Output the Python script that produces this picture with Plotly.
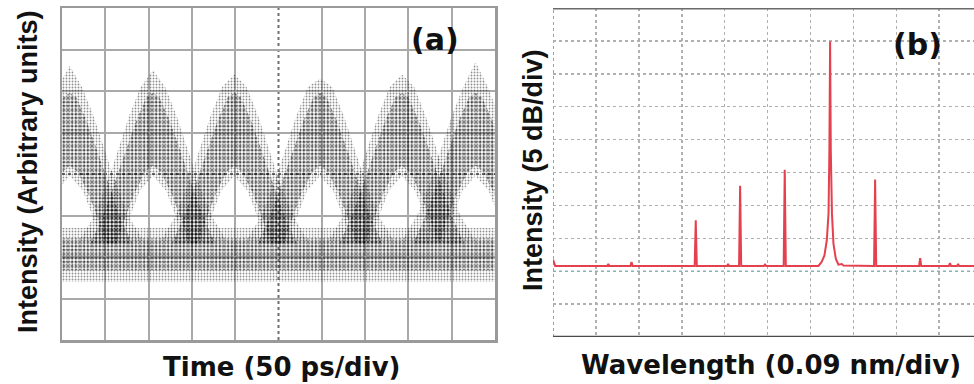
import plotly.graph_objects as go

# ---------------- Panel (a): eye diagram (units = grid divisions) ----------------
# pulse peak positions (x)
pulse_peak_x = [0.18, 2.10, 3.98, 5.96, 7.85, 9.55]
pulse_tip_y = [6.6, 6.5, 6.4, 6.3, 6.4, 6.7]
# sparse envelope of one pulse (dx from peak, y); outer edge then inner edge
pulse_outer_dx = [-1.70, -1.35, -1.05, -0.80, -0.55, -0.28, 0.0, 0.28, 0.55, 0.80, 1.05, 1.35, 1.70]
pulse_outer_y = [2.40, 3.00, 3.80, 4.60, 5.40, 6.10, None, 6.10, 5.40, 4.60, 3.80, 3.00, 2.40]
pulse_inner_dx = [0.72, 0.52, 0.30, 0.0, -0.30, -0.52, -0.72]
pulse_inner_y = [2.40, 3.00, 3.60, 3.95, 3.60, 3.00, 2.40]
# dense core of one pulse
core_outer_dx = [-1.45, -1.15, -0.88, -0.62, -0.38, -0.15, 0.0, 0.15, 0.38, 0.62, 0.88, 1.15, 1.45]
core_outer_y = [2.30, 3.00, 3.80, 4.60, 5.30, 5.85, 5.95, 5.85, 5.30, 4.60, 3.80, 3.00, 2.30]
core_inner_dx = [0.85, 0.62, 0.42, 0.18, 0.0, -0.18, -0.42, -0.62, -0.85]
core_inner_y = [2.30, 3.00, 3.55, 4.05, 4.20, 4.05, 3.55, 3.00, 2.30]
# "zero" level band
base_sparse_y = [1.40, 2.70]
base_core_y = [1.68, 2.45]

# ---------------- Panel (b): optical spectrum ----------------
spec_baseline = 2.16
spec_start = [(0.00, 2.35), (0.05, 2.16)]
line_x = [1.29, 1.83, 3.326, 4.08, 4.36, 4.94, 5.40, 7.506, 8.555, 9.25, 9.44]
line_y = [2.22, 2.28, 3.55, 2.22, 4.60, 2.20, 5.08, 4.79, 2.40, 2.25, 2.22]
main_x = [6.185, 6.26, 6.325, 6.38, 6.42, 6.44, 6.457, 6.473, 6.50, 6.535, 6.59, 6.65, 6.73, 6.77]
main_y = [2.16, 2.28, 2.48, 2.94, 3.75, 5.67, 8.98, 5.67, 3.75, 2.84, 2.38, 2.20, 2.22, 2.17]
spec_end_x = 9.81

W, H = 974, 384

fig = go.Figure()

def pat(size, sol, col="#111"):
    return dict(shape=".", size=size, solidity=sol, fgcolor=col,
                bgcolor="rgba(0,0,0,0)", fillmode="overlay")

SPARSE = dict(fillcolor="rgba(0,0,0,0.13)", fillpattern=pat(3, 0.3, "#222"))
DENSE = dict(fillcolor="rgba(0,0,0,0.28)", fillpattern=pat(4, 0.45, "#000"))

def band(xs, ys, style):
    fig.add_trace(go.Scatter(x=xs + [xs[0]], y=ys + [ys[0]], fill="toself",
                             line=dict(width=0, color="rgba(0,0,0,0)"), mode="lines",
                             xaxis="x", yaxis="y", showlegend=False, hoverinfo="skip", **style))

# base band
band([-0.5, 10.5, 10.5, -0.5], [base_sparse_y[0], base_sparse_y[0], base_sparse_y[1], base_sparse_y[1]], SPARSE)
band([-0.5, 10.5, 10.5, -0.5], [base_core_y[0], base_core_y[0], base_core_y[1], base_core_y[1]], DENSE)

for px, tip in zip(pulse_peak_x, pulse_tip_y):
    oy = [tip if v is None else v for v in pulse_outer_y]
    band([px + d for d in pulse_outer_dx] + [px + d for d in pulse_inner_dx], oy + pulse_inner_y, SPARSE)
    band([px + d for d in core_outer_dx] + [px + d for d in core_inner_dx], core_outer_y + core_inner_y, DENSE)

# spectrum trace
pts = list(spec_start)
for lx, ly in zip(line_x, line_y):
    pts += [(lx - 0.025, spec_baseline), (lx, ly), (lx + 0.025, spec_baseline)]
pts += list(zip(main_x, main_y))
pts.append((spec_end_x, spec_baseline))
pts.sort(key=lambda p: p[0])
fig.add_trace(go.Scatter(x=[p[0] for p in pts], y=[p[1] for p in pts], mode="lines",
                         line=dict(color="#e4404e", width=2),
                         xaxis="x2", yaxis="y2", showlegend=False, hoverinfo="skip"))

ya_dom = [(H - 340) / H, (H - 8) / H]
yb_dom = [(H - 337) / H, (H - 8) / H]

grid_a = dict(showgrid=True, gridcolor="#a9a9a9", gridwidth=2, zeroline=False,
              showticklabels=False, ticks="", showline=True, linecolor="#9a9a9a",
              linewidth=2.5, mirror=True, fixedrange=True)
grid_b = dict(showgrid=True, gridcolor="#b0b0b0", gridwidth=1.5, griddash="dot",
              zeroline=False, showticklabels=False, ticks="", showline=False, fixedrange=True)

fig.update_layout(
    width=W, height=H, margin=dict(l=0, r=0, t=0, b=0),
    paper_bgcolor="white", plot_bgcolor="white",
    xaxis=dict(domain=[62 / W, 495 / W], range=[0, 10], tickvals=[1, 2, 3, 4, 6, 7, 8, 9],
               anchor="y", **grid_a),
    yaxis=dict(domain=ya_dom, range=[0, 8], tickvals=[1, 2, 3, 5, 6, 7], anchor="x", **grid_a),
    xaxis2=dict(domain=[553 / W, 1.0], range=[0, spec_end_x], tickvals=[1, 2, 3, 4, 5, 6, 7, 8, 9],
                anchor="y2", **grid_b),
    yaxis2=dict(domain=yb_dom, range=[0, 10], tickvals=[1, 3, 4, 5, 6, 7, 8, 9], anchor="x2", **grid_b),
)

shapes = [
    # center dotted lines of panel (a)
    dict(type="line", xref="x", yref="y", x0=5, x1=5, y0=0, y1=8,
         line=dict(color="#707070", width=2, dash="dot"), layer="below"),
    dict(type="line", xref="x", yref="y", x0=0, x1=10, y0=4, y1=4,
         line=dict(color="#707070", width=2, dash="dot"), layer="below"),
    # panel (b) frame pieces
    dict(type="line", xref="x2", yref="y2", x0=0, x1=spec_end_x, y0=2, y1=2,
         line=dict(color="#86b4b6", width=1.5, dash="dot"), layer="below"),
    dict(type="line", xref="x2", yref="y2", x0=0, x1=0, y0=0, y1=10,
         line=dict(color="#a0a0a0", width=2, dash="dot"), layer="below"),
    dict(type="line", xref="x2", yref="y2", x0=0, x1=spec_end_x, y0=10, y1=10,
         line=dict(color="#6a6a6a", width=3)),
    dict(type="line", xref="x2", yref="y2", x0=0, x1=spec_end_x, y0=0, y1=0,
         line=dict(color="#4a4a4a", width=2.5)),
]
fig.update_layout(shapes=shapes)

bold_arial = dict(family="Liberation Sans, Arial", size=27, color="#111", weight="bold")
bold_wide = dict(family="DejaVu Sans", size=26, color="#111", weight="bold")
lab_font = dict(family="DejaVu Sans", size=30, color="#111", weight="bold")

ann = [
    dict(text="Intensity (Arbitrary units)", x=28 / W, y=1 - 172 / H, textangle=-90, font=bold_arial),
    dict(text="Time (50 ps/div)", x=281 / W, y=1 - 367 / H, font=bold_wide),
    dict(text="Intensity (5 dB/div)", x=533 / W, y=1 - 170 / H, textangle=-90, font=bold_arial),
    dict(text="Wavelength (0.09 nm/div)", x=771 / W, y=1 - 365 / H, font=bold_wide),
    dict(text="(a)", x=435 / W, y=1 - 40 / H, font=lab_font),
    dict(text="(b)", x=917 / W, y=1 - 44 / H, font=lab_font),
]
for a in ann:
    a.update(xref="paper", yref="paper", showarrow=False, xanchor="center", yanchor="middle")
fig.update_layout(annotations=ann)

fig.write_html("out.html", config={"displayModeBar": False, "staticPlot": True},
               post_script="document.body.style.margin='0';document.body.style.padding='0';"
                           "document.body.style.overflow='hidden';")
